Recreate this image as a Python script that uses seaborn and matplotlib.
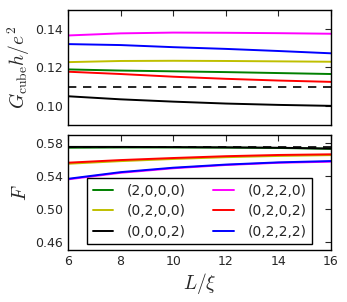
import numpy as np
import pandas as pd
import seaborn as sns
import matplotlib
matplotlib.use('Agg')
import matplotlib.pyplot as plt

# system size L/xi
L = [6, 8, 10, 12, 14, 16]

labels = ['(2,0,0,0)', '(0,2,0,0)', '(0,0,0,2)', '(0,2,2,0)', '(0,2,0,2)', '(0,2,2,2)']
colors = ['#008000', '#bfbf00', 'black', '#ff00ff', '#ff0000', '#0000ff']

# conductance G_cube h/e^2
G_2000 = [0.1190, 0.1184, 0.1180, 0.1176, 0.1171, 0.1166]
G_0200 = [0.1228, 0.1234, 0.1235, 0.1234, 0.1232, 0.1230]
G_0002 = [0.1050, 0.1034, 0.1022, 0.1012, 0.1005, 0.1000]
G_0220 = [0.1367, 0.1378, 0.1382, 0.1381, 0.1379, 0.1376]
G_0202 = [0.1178, 0.1166, 0.1152, 0.1141, 0.1132, 0.1125]
G_0222 = [0.1322, 0.1317, 0.1306, 0.1297, 0.1286, 0.1274]
G_ref = 0.11

# Fano factor F
F_2000 = [0.5745, 0.5748, 0.5748, 0.5746, 0.5742, 0.5732]
F_0200 = [0.5550, 0.5582, 0.5608, 0.5630, 0.5645, 0.5655]
F_0002 = [0.5755, 0.5755, 0.5753, 0.5750, 0.5745, 0.5735]
F_0220 = [0.5360, 0.5440, 0.5495, 0.5535, 0.5562, 0.5575]
F_0202 = [0.5563, 0.5595, 0.5620, 0.5642, 0.5657, 0.5665]
F_0222 = [0.5367, 0.5448, 0.5502, 0.5540, 0.5567, 0.5583]
F_ref = 0.576

G_all = [G_2000, G_0200, G_0002, G_0220, G_0202, G_0222]
F_all = [F_2000, F_0200, F_0002, F_0220, F_0202, F_0222]

sns.set_style('white')
plt.rcParams['font.family'] = ['DejaVu Sans']
plt.rcParams['mathtext.fontset'] = 'cm'

fig = plt.figure(figsize=(3.47, 3.02), dpi=100)
ax1 = fig.add_axes([0.196, 0.586, 0.758, 0.381])
ax2 = fig.add_axes([0.196, 0.172, 0.758, 0.381])

for vals, c, lab in zip(G_all, colors, labels):
    sns.lineplot(x=L, y=vals, color=c, lw=1.4, ax=ax1)
ax1.axhline(G_ref, color='black', ls='--', lw=1.2, dashes=(5, 4))

for vals, c, lab in zip(F_all, colors, labels):
    sns.lineplot(x=L, y=vals, color=c, lw=1.4, label=lab, ax=ax2)
ax2.axhline(F_ref, color='black', ls='--', lw=1.2, dashes=(5, 4))

ax1.set_xlim(6, 16)
ax1.set_ylim(0.09, 0.15)
ax1.set_yticks([0.10, 0.12, 0.14])
ax1.set_xticks([6, 8, 10, 12, 14, 16])
ax1.set_xticklabels([])
ax1.set_ylabel(r'$G_{\rm cube}h/e^2$', fontsize=14, labelpad=2)

ax2.set_xlim(6, 16)
ax2.set_ylim(0.45, 0.59)
ax2.set_yticks([0.46, 0.50, 0.54, 0.58])
ax2.set_xticks([6, 8, 10, 12, 14, 16])
ax2.set_ylabel(r'$F$', fontsize=14, labelpad=4)
ax2.set_xlabel(r'$L/\xi$', fontsize=14, labelpad=2)

for ax in (ax1, ax2):
    ax.tick_params(direction='in', top=True, right=True, length=4, width=0.8, labelsize=9)
    for s in ax.spines.values():
        s.set_color('black')
        s.set_linewidth(1.0)

leg = ax2.legend(ncol=2, loc='lower center', bbox_to_anchor=(0.5, 0.0),
                 fontsize=10, frameon=True, fancybox=False, handlelength=1.45,
                 handletextpad=1.0, columnspacing=2.0, borderaxespad=0.43,
                 labelspacing=0.45, borderpad=0.4)
leg.get_frame().set_edgecolor('black')
leg.get_frame().set_linewidth(1.0)
leg.get_frame().set_alpha(1)

fig.savefig('out.png', dpi=100)
